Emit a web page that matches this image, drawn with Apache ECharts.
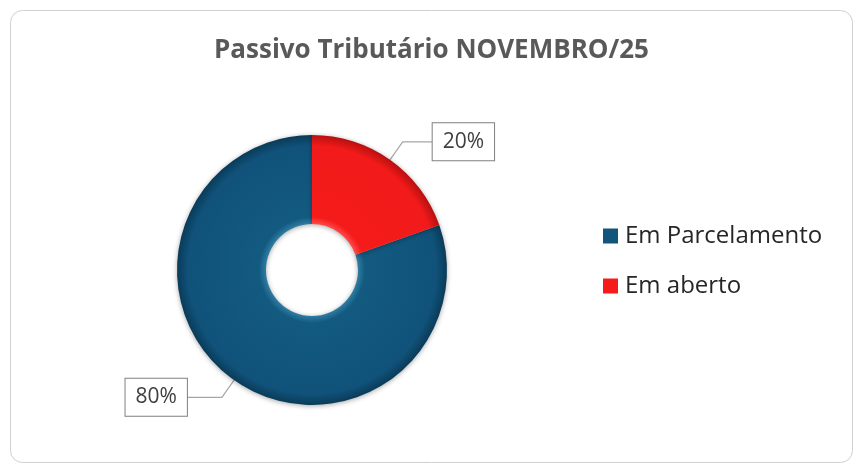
<!DOCTYPE html>
<html><head><meta charset="utf-8">
<script src="https://cdn.jsdelivr.net/npm/echarts@6/dist/echarts.min.js"></script>
<style>html,body{margin:0;padding:0;background:#fff}#c{width:863px;height:473px}</style>
</head><body><div id="c"></div>
<script>
const titleText = 'Passivo Tributário NOVEMBRO/25';
const categories = ['Em Parcelamento', 'Em aberto'];
const values = [80.4, 19.6];
const colors = ['#11557a', '#f51b1b'];
const shades = [
  ['#2f7ca3', '#135a80', '#10527a', '#0a3b58'],
  ['#ff4a4a', '#f51b1b', '#f21a1a', '#b81010']
];

const chart = echarts.init(document.getElementById('c'));
const font = 'Open Sans';
const cx = 312, cy = 270, rIn = 46, rOut = 135;
const total = values.reduce((a, b) => a + b, 0);
const startAngle = 90 - 360 * values[1] / total;
const grad = (s) => new echarts.graphic.RadialGradient(cx, cy, rOut, [
  { offset: rIn / rOut, color: s[0] },
  { offset: (rIn + 7) / rOut, color: s[1] },
  { offset: 0.92, color: s[2] },
  { offset: 1, color: s[3] }
], true);
const baseData = categories.map((n, i) => ({ name: n, value: values[i], itemStyle: { color: grad(shades[i]) } }));
const lineLen = [{ length: 66, length2: 35 }, { length: 67, length2: 30 }];

chart.setOption({
  backgroundColor: '#fff',
  graphic: [{
    type: 'rect', left: 10, top: 10, z: -1,
    shape: { width: 842, height: 452, r: 12 },
    style: { fill: '#fff', stroke: '#d0d0d0', lineWidth: 1 }
  }],
  title: {
    text: titleText, left: 'center', top: 33,
    textStyle: { fontFamily: font, fontSize: 26, fontWeight: 'bold', color: '#595959' }
  },
  legend: {
    orient: 'vertical', left: 598, top: 219, itemGap: 26,
    itemWidth: 15, itemHeight: 15, icon: 'rect',
    data: categories.map((n, i) => ({ name: n, itemStyle: { color: colors[i] } })),
    textStyle: { fontFamily: font, fontSize: 24, color: '#262626', padding: [0, 0, 0, 2] }
  },
  series: [{
    type: 'pie', center: [cx, cy], radius: [rIn, rOut],
    startAngle: startAngle, clockwise: true, silent: true,
    label: { show: false }, labelLine: { show: false },
    itemStyle: { shadowBlur: 5, shadowColor: 'rgba(0,0,0,0.35)', shadowOffsetY: 1 },
    data: baseData
  }, {
    type: 'pie', center: [cx, cy], radius: [0, 90],
    startAngle: startAngle, clockwise: true, silent: true,
    percentPrecision: 0, legendHoverLink: false,
    itemStyle: { color: 'rgba(0,0,0,0)' },
    label: {
      show: true, position: 'outside', formatter: '{d}%',
      fontFamily: font, fontSize: 21, lineHeight: 21, color: '#404040',
      backgroundColor: '#fff', borderColor: '#7f7f7f', borderWidth: 1,
      padding: [8, 10, 8, 10], distanceToLabelLine: 0
    },
    labelLine: { show: true, lineStyle: { color: '#a6a6a6', width: 1.2 } },
    data: categories.map((n, i) => ({ name: n, value: values[i], labelLine: lineLen[i] }))
  }]
});
</script></body></html>
